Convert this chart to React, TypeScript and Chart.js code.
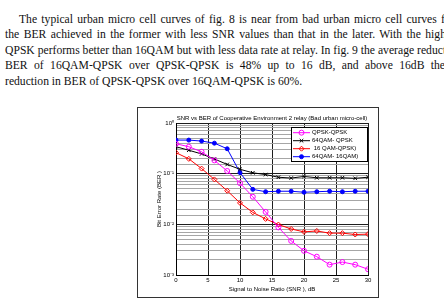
import React, { useEffect, useRef } from "react";
import { Chart, registerables } from "chart.js";
import { drawPoint } from "chart.js/helpers";

Chart.register(...registerables);

// SNR sample points (dB)
const snrDb = [0, 2, 4, 6, 8, 10, 12, 14, 16, 18, 20, 22, 24, 26, 28, 30];

// Bit error rate per relay modulation pair
const berQpskQpsk = [0.39, 0.34, 0.27, 0.183, 0.113, 0.065, 0.035, 0.0176, 0.0087, 0.0047, 0.003, 0.0023, 0.0016, 0.0018, 0.0016, 0.0013];
const ber64qamQpsk = [0.34, 0.29, 0.245, 0.195, 0.152, 0.122, 0.104, 0.096, 0.085, 0.082, 0.088, 0.083, 0.083, 0.083, 0.081, 0.085];
const ber16qamQpsk = [0.26, 0.196, 0.126, 0.077, 0.046, 0.0265, 0.0172, 0.0128, 0.0099, 0.0081, 0.0071, 0.0074, 0.0067, 0.0067, 0.0063, 0.0064];
const ber64qam16qam = [0.46, 0.46, 0.44, 0.4, 0.31, 0.105, 0.049, 0.044, 0.045, 0.045, 0.043, 0.044, 0.045, 0.044, 0.045, 0.045];

const seriesLabels = ["QPSK-QPSK", "64QAM- QPSK", " 16 QAM-QPSK)", "64QAM- 16QAM)"];

const chartTitle = "SNR vs BER of Cooperative Environment 2 relay (Bad urban micro-cell)";
const xAxisTitle = "Signal to Noise Ratio (SNR ), dB";
const yAxisTitle = "Bit Error Rate (BER )";

// Body text above the figure, one entry per printed line
const paragraphLines = [
  "The typical urban micro cell curves of fig. 8 is near from bad urban micro cell curves for",
  "the BER achieved in the former with less SNR values than that in the later. With the high",
  "QPSK performs better than 16QAM but with less data rate at relay. In fig. 9 the average reduction",
  "BER of 16QAM-QPSK over QPSK-QPSK is 48% up to 16 dB, and above 16dB the",
  "reduction in BER of QPSK-QPSK over 16QAM-QPSK is 60%.",
];

const SUP: Record<string, string> = {
  "-": "\u207B", "0": "\u2070", "1": "\u00B9", "2": "\u00B2", "3": "\u00B3",
  "4": "\u2074", "5": "\u2075", "6": "\u2076", "7": "\u2077", "8": "\u2078", "9": "\u2079",
};
const isDecade = (v: number) => Math.abs(Math.log10(v) - Math.round(Math.log10(v))) < 1e-6;
const powerLabel = (v: number) =>
  "10" + String(Math.round(Math.log10(v))).split("").map((c) => SUP[c] ?? c).join("");

const styleOf = [
  { color: "#ff00ff", marker: "circle", fill: "rgba(0,0,0,0)", radius: 2.5 },
  { color: "#000000", marker: "crossRot", fill: "rgba(0,0,0,0)", radius: 2.5 },
  { color: "#ff0000", marker: "rectRot", fill: "rgba(0,0,0,0)", radius: 2.5 },
  { color: "#0000ff", marker: "circle", fill: "#0000ff", radius: 2 },
];

// Legend box drawn in the upper-right corner of the plot area
const plotLegend = {
  id: "plotLegend",
  afterDatasetsDraw(chart: any) {
    const { ctx, chartArea } = chart;
    const boxW = 76;
    const boxH = 34;
    const x0 = Math.round(chartArea.right - boxW - 1);
    const y0 = Math.round(chartArea.top + 4);
    ctx.save();
    ctx.fillStyle = "#ffffff";
    ctx.fillRect(x0, y0, boxW, boxH);
    ctx.strokeStyle = "#000000";
    ctx.lineWidth = 1;
    ctx.strokeRect(x0 + 0.5, y0 + 0.5, boxW, boxH);
    chart.data.datasets.forEach((ds: any, i: number) => {
      const cy = y0 + 5.7 + i * 8;
      ctx.strokeStyle = ds.borderColor;
      ctx.lineWidth = 1;
      ctx.beginPath();
      ctx.moveTo(x0 + 2, cy);
      ctx.lineTo(x0 + 19, cy);
      ctx.stroke();
      ctx.fillStyle = ds.pointBackgroundColor;
      drawPoint(ctx, { pointStyle: ds.pointStyle, radius: ds.pointRadius, borderWidth: 1, rotation: 0 }, x0 + 10.5, cy);
      ctx.fillStyle = "#000000";
      ctx.font = "6px 'Liberation Sans', Arial, sans-serif";
      ctx.textBaseline = "middle";
      ctx.textAlign = "left";
      ctx.fillText(ds.label, x0 + 21, cy);
    });
    ctx.restore();
  },
};

export default function App() {
  const canvasRef = useRef<HTMLCanvasElement>(null);

  useEffect(() => {
    Chart.defaults.font.family = "'Liberation Sans', Arial, sans-serif";
    Chart.defaults.color = "#000000";
    const series = [berQpskQpsk, ber64qamQpsk, ber16qamQpsk, ber64qam16qam];
    const chart = new Chart(canvasRef.current!, {
      type: "line",
      data: {
        datasets: series.map((values, i) => ({
          label: seriesLabels[i],
          data: snrDb.map((x, k) => ({ x, y: values[k] })),
          borderColor: styleOf[i].color,
          borderWidth: 1,
          pointStyle: styleOf[i].marker,
          pointRadius: styleOf[i].radius,
          pointBorderColor: styleOf[i].color,
          pointBackgroundColor: styleOf[i].fill,
          pointBorderWidth: 1,
          tension: 0,
          fill: false,
        })),
      },
      options: {
        responsive: false,
        animation: false,
        devicePixelRatio: 1,
        layout: { padding: { left: 0, right: 10, top: 0, bottom: 0 } },
        plugins: {
          legend: { display: false },
          tooltip: { enabled: false },
          title: {
            display: true,
            text: chartTitle,
            fullSize: false,
            color: "#000000",
            font: { size: 6, weight: "normal" },
            padding: { top: 6.4, bottom: 1.4 },
          },
        },
        scales: {
          x: {
            type: "linear",
            min: 0,
            max: 30,
            ticks: { stepSize: 5, padding: 1.5, font: { size: 6 }, color: "#000000" },
            grid: { color: "#1e1e1e", lineWidth: 1, drawTicks: false },
            border: { display: true, color: "#000000", width: 1 },
            title: { display: true, text: xAxisTitle, font: { size: 6 }, color: "#000000", padding: { top: 0, bottom: 4.4 } },
            afterFit: (scale: any) => {
              scale.height = 22;
            },
          },
          y: {
            type: "logarithmic",
            min: 0.001,
            max: 1,
            ticks: {
              autoSkip: false,
              padding: 2,
              font: { size: 6 },
              color: "#000000",
              callback: (v: any) => (isDecade(Number(v)) ? powerLabel(Number(v)) : ""),
            },
            grid: {
              drawTicks: false,
              lineWidth: 1,
              color: (c: any) => (c.tick && isDecade(c.tick.value) ? "#1e1e1e" : "#a6a6a6"),
            },
            border: { display: true, color: "#000000", width: 1 },
            title: { display: true, text: yAxisTitle, font: { size: 6 }, color: "#000000", padding: { top: 17.4, bottom: 0 } },
            afterFit: (scale: any) => {
              scale.width = 38;
            },
          },
        },
      },
      plugins: [plotLegend],
    } as any);
    return () => chart.destroy();
  }, []);

  const lineTop = 12;
  const lineStep = 15.4;
  const lineBoxes = [
    { left: 19, right: 454.6, justify: true },
    { left: 5, right: 446, justify: true },
    { left: 5, right: 461, justify: true },
    { left: 5, right: 445, justify: true },
    { left: 5, right: 444, justify: false },
  ];

  return (
    <div style={{ position: "absolute", left: 0, top: 0, width: 444, height: 301, overflow: "hidden", background: "#ffffff" }}>
      {paragraphLines.map((text, i) => (
        <div
          key={i}
          style={{
            position: "absolute",
            left: lineBoxes[i].left,
            top: lineTop + i * lineStep,
            width: lineBoxes[i].right - lineBoxes[i].left,
            fontFamily: "'Liberation Serif', 'Times New Roman', serif",
            fontSize: 11.65,
            lineHeight: "15.4px",
            color: "#111111",
            whiteSpace: "nowrap",
            textAlign: lineBoxes[i].justify ? "justify" : "left",
            textAlignLast: lineBoxes[i].justify ? "justify" : "left",
          } as any}
        >
          {text}
        </div>
      ))}
      <div
        style={{
          position: "absolute",
          left: 137,
          top: 107,
          width: 240,
          height: 189,
          border: "1px solid #333333",
          background: "#ffffff",
        }}
      >
        <canvas ref={canvasRef} width={240} height={189} style={{ display: "block", width: 240, height: 189 }} />
      </div>
    </div>
  );
}
